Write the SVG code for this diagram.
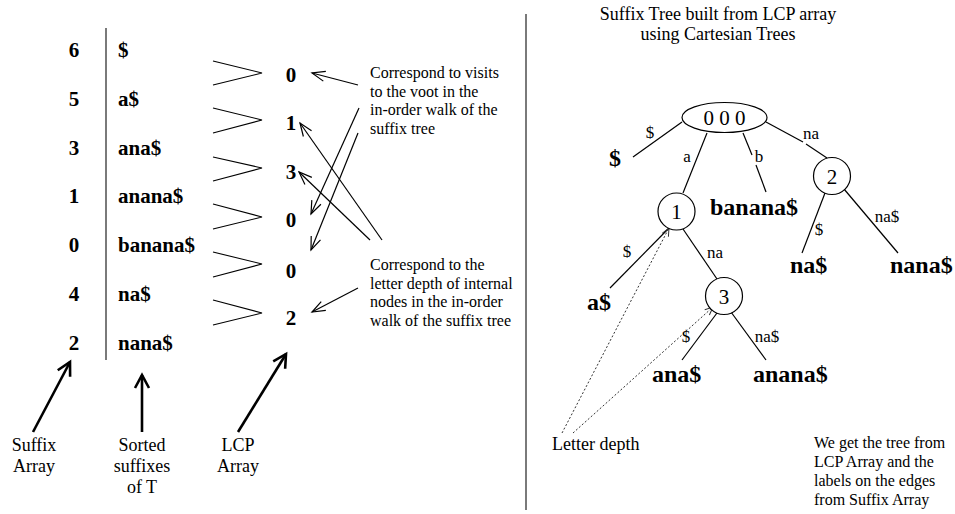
<svg xmlns="http://www.w3.org/2000/svg" width="955" height="514" viewBox="0 0 955 514">
<style>
  text { font-family: "Liberation Serif", "Times New Roman", serif; fill: #000; }
  .b { font-weight: bold; font-size: 21px; }
  .leaf { font-weight: bold; font-size: 24px; }
  .note { font-size: 16px; }
  .lab { font-size: 18px; }
  .el { font-size: 17px; }
  .nd { font-size: 21px; }
  .ln { stroke: #000; stroke-width: 1.2; fill: none; }
  .gt { stroke: #000; stroke-width: 1.1; fill: none; }
  .thick { stroke: #000; stroke-width: 2.6; fill: none; }
  .dot { stroke: #333; stroke-width: 1; stroke-dasharray: 2 2; fill: none; }
  .gray { stroke: #7a7a7a; stroke-width: 2; }
  .circ { stroke: #000; stroke-width: 1.2; fill: #fff; }
</style>
<defs>
  <marker id="ah" markerUnits="userSpaceOnUse" viewBox="-15 -7 17 14" refX="0" refY="0" markerWidth="17" markerHeight="14" orient="auto">
    <path d="M -13 -5 L 0 0 L -13 5" fill="none" stroke="#000" stroke-width="1.2"/>
  </marker>
  <marker id="ahT" markerUnits="userSpaceOnUse" viewBox="-16 -9 19 18" refX="0" refY="0" markerWidth="19" markerHeight="18" orient="auto">
    <path d="M -13 -7 L 0 0 L -13 7" fill="none" stroke="#000" stroke-width="2.6"/>
  </marker>
  <marker id="ahD" markerUnits="userSpaceOnUse" viewBox="-10 -5 12 10" refX="0" refY="0" markerWidth="12" markerHeight="10" orient="auto">
    <path d="M -8 -3.5 L 0 0 L -8 3.5" fill="none" stroke="#333" stroke-width="1"/>
  </marker>
</defs>
<rect width="955" height="514" fill="#fff"/>

<!-- dividers -->
<line class="gray" x1="106" y1="28" x2="106" y2="360"/>
<line class="gray" x1="526" y1="14" x2="526" y2="510"/>

<!-- suffix array table -->
<g id="suffix-array">
  <text class="b" x="74" y="57" text-anchor="middle">6</text>
  <text class="b" x="74" y="106" text-anchor="middle">5</text>
  <text class="b" x="74" y="155" text-anchor="middle">3</text>
  <text class="b" x="74" y="203" text-anchor="middle">1</text>
  <text class="b" x="74" y="252" text-anchor="middle">0</text>
  <text class="b" x="74" y="301" text-anchor="middle">4</text>
  <text class="b" x="74" y="350" text-anchor="middle">2</text>
</g>
<g id="sorted-suffixes">
  <text class="b" x="118" y="57">$</text>
  <text class="b" x="118" y="106">a$</text>
  <text class="b" x="118" y="155">ana$</text>
  <text class="b" x="118" y="203">anana$</text>
  <text class="b" x="118" y="252">banana$</text>
  <text class="b" x="118" y="301">na$</text>
  <text class="b" x="118" y="350">nana$</text>
</g>
<g id="lcp-array">
  <text class="b" x="291" y="82" text-anchor="middle">0</text>
  <text class="b" x="291" y="130" text-anchor="middle">1</text>
  <text class="b" x="291" y="179" text-anchor="middle">3</text>
  <text class="b" x="291" y="227" text-anchor="middle">0</text>
  <text class="b" x="291" y="278" text-anchor="middle">0</text>
  <text class="b" x="291" y="325" text-anchor="middle">2</text>
</g>
<g id="compare-marks">
  <path class="gt" d="M213 61 L262 73 L213 85"/>
  <path class="gt" d="M213 108 L262 120 L213 133"/>
  <path class="gt" d="M213 157 L262 168 L213 181"/>
  <path class="gt" d="M213 204 L262 217 L213 229"/>
  <path class="gt" d="M213 252 L262 264 L213 277"/>
  <path class="gt" d="M213 300 L262 313 L213 325"/>
</g>

<g id="note-root">
  <text class="note" x="370" y="78">Correspond to visits</text>
  <text class="note" x="370" y="96.5">to the voot in the</text>
  <text class="note" x="370" y="115">in-order walk of the</text>
  <text class="note" x="370" y="133.5">suffix tree</text>
</g>
<g id="note-depth">
  <text class="note" x="370" y="270">Correspond to the</text>
  <text class="note" x="370" y="288.5">letter depth of internal</text>
  <text class="note" x="370" y="307">nodes in the in-order</text>
  <text class="note" x="370" y="325.5">walk of the suffix tree</text>
</g>

<g id="label-suffix-array">
  <text class="lab" x="34" y="451" text-anchor="middle">Suffix</text>
  <text class="lab" x="34" y="472" text-anchor="middle">Array</text>
</g>
<g id="label-sorted">
  <text class="lab" x="142" y="451" text-anchor="middle">Sorted</text>
  <text class="lab" x="142" y="472" text-anchor="middle">suffixes</text>
  <text class="lab" x="142" y="493" text-anchor="middle">of T</text>
</g>
<g id="label-lcp">
  <text class="lab" x="238" y="451" text-anchor="middle">LCP</text>
  <text class="lab" x="238" y="472" text-anchor="middle">Array</text>
</g>

<!-- right: tree -->
<g id="title">
  <text class="lab" x="718" y="20" text-anchor="middle">Suffix Tree built from LCP array</text>
  <text class="lab" x="718" y="40" text-anchor="middle">using Cartesian Trees</text>
</g>

<g id="connectors">
  <!-- left annotations -->
  <line class="ln" x1="358" y1="85" x2="312" y2="73" marker-end="url(#ah)"/>
  <line class="ln" x1="359" y1="108" x2="311" y2="214" marker-end="url(#ah)"/>
  <line class="ln" x1="358" y1="133" x2="311" y2="250" marker-end="url(#ah)"/>
  <line class="ln" x1="382" y1="240" x2="300" y2="123" marker-end="url(#ah)"/>
  <line class="ln" x1="370" y1="240" x2="299" y2="172" marker-end="url(#ah)"/>
  <line class="ln" x1="358" y1="288" x2="312" y2="312" marker-end="url(#ah)"/>
  <line class="thick" x1="33" y1="432" x2="70" y2="362" marker-end="url(#ahT)"/>
  <line class="thick" x1="142" y1="432" x2="142" y2="375" marker-end="url(#ahT)"/>
  <line class="thick" x1="238" y1="432" x2="286" y2="354" marker-end="url(#ahT)"/>
  <!-- tree edges -->
  <line class="ln" x1="682" y1="122" x2="633" y2="157"/>
  <line class="ln" x1="707" y1="133" x2="683" y2="193"/>
  <line class="ln" x1="743" y1="133" x2="752" y2="155"/>
  <line class="ln" x1="756" y1="165" x2="766" y2="192"/>
  <line class="ln" x1="766" y1="122" x2="803" y2="142"/>
  <line class="ln" x1="806" y1="144" x2="827" y2="158"/>
  <line class="ln" x1="670" y1="227" x2="610" y2="288"/>
  <line class="ln" x1="683" y1="229" x2="717" y2="279"/>
  <line class="ln" x1="717" y1="313" x2="682" y2="360"/>
  <line class="ln" x1="731" y1="312" x2="766" y2="360"/>
  <line class="ln" x1="825" y1="193" x2="802" y2="253"/>
  <line class="ln" x1="844" y1="189" x2="898" y2="253"/>
  <!-- letter depth pointers -->
  <line class="dot" x1="562" y1="433" x2="669" y2="228" marker-end="url(#ahD)"/>
  <line class="dot" x1="573" y1="433" x2="713" y2="307" marker-end="url(#ahD)"/>
</g>

<g id="edge-labels">
  <text class="el" x="650" y="138" text-anchor="middle">$</text>
  <text class="el" x="687" y="162" text-anchor="middle">a</text>
  <text class="el" x="759" y="162" text-anchor="middle">b</text>
  <text class="el" x="811" y="139" text-anchor="middle">na</text>
  <text class="el" x="627" y="257" text-anchor="middle">$</text>
  <text class="el" x="715" y="258" text-anchor="middle">na</text>
  <text class="el" x="686" y="342" text-anchor="middle">$</text>
  <text class="el" x="767" y="342" text-anchor="middle">na$</text>
  <text class="el" x="819" y="235" text-anchor="middle">$</text>
  <text class="el" x="887" y="222" text-anchor="middle">na$</text>
</g>

<g id="node-root">
  <ellipse class="circ" cx="724.5" cy="117.5" rx="42.5" ry="15"/>
  <text class="nd" x="724.5" y="125" text-anchor="middle">0 0 0</text>
</g>
<g id="node-1">
  <circle class="circ" cx="676.5" cy="211.5" r="18.5"/>
  <text class="nd" x="676.5" y="219" text-anchor="middle">1</text>
</g>
<g id="node-2">
  <circle class="circ" cx="832" cy="176" r="18.5"/>
  <text class="nd" x="832" y="183.5" text-anchor="middle">2</text>
</g>
<g id="node-3">
  <circle class="circ" cx="724" cy="296" r="18.5"/>
  <text class="nd" x="724" y="303.5" text-anchor="middle">3</text>
</g>

<g id="leaf-dollar"><text class="leaf" x="615" y="166" text-anchor="middle">$</text></g>
<g id="leaf-banana"><text class="leaf" x="710" y="215">banana$</text></g>
<g id="leaf-a"><text class="leaf" x="587" y="310">a$</text></g>
<g id="leaf-ana"><text class="leaf" x="652" y="382">ana$</text></g>
<g id="leaf-anana"><text class="leaf" x="753" y="382">anana$</text></g>
<g id="leaf-na"><text class="leaf" x="790" y="273">na$</text></g>
<g id="leaf-nana"><text class="leaf" x="890" y="273">nana$</text></g>

<g id="label-letter-depth">
  <text class="lab" x="552" y="450">Letter depth</text>
</g>
<g id="note-summary">
  <text class="note" x="814" y="448">We get the tree from</text>
  <text class="note" x="814" y="467">LCP Array and the</text>
  <text class="note" x="814" y="486">labels on the edges</text>
  <text class="note" x="814" y="505">from Suffix Array</text>
</g>
</svg>
